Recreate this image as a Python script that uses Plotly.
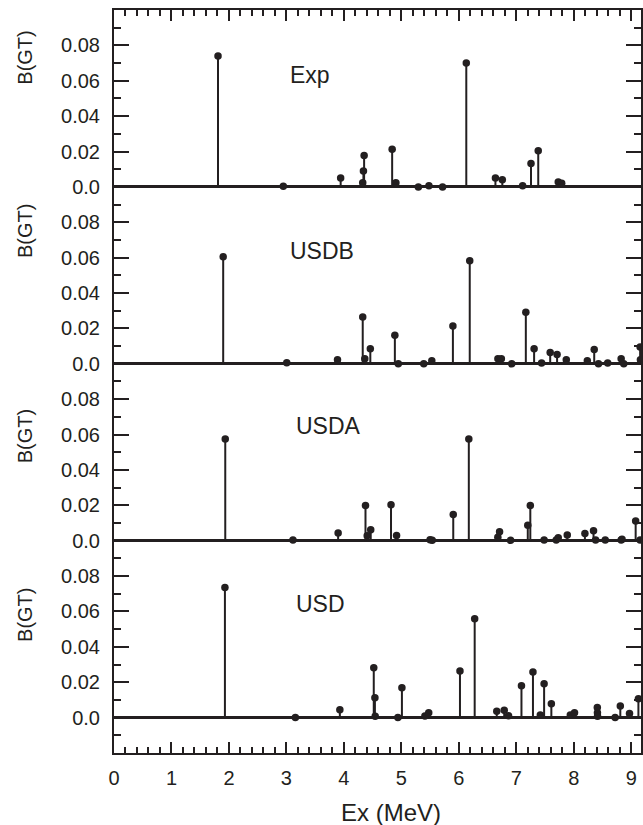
import plotly.graph_objects as go

# ---------------- data ----------------
exp_x = [1.81, 2.946, 3.944, 4.328, 4.34, 4.352, 4.84, 4.905, 5.296, 5.48, 5.717, 6.13,
         6.637, 6.757, 7.11, 7.256, 7.382, 7.73, 7.79]
exp_y = [0.074, 0.0003, 0.0051, 0.0024, 0.009, 0.0177, 0.0213, 0.0023, 0.0, 0.0006, 0.0, 0.070,
         0.0051, 0.0041, 0.0006, 0.0132, 0.0205, 0.0028, 0.002]

usdb_x = [1.90, 3.006, 3.889, 4.328, 4.364, 4.46, 4.887, 4.947, 5.39, 5.53, 5.897, 6.19,
          6.68, 6.74, 6.92, 7.166, 7.31, 7.44, 7.59, 7.71, 7.87, 8.236, 8.356, 8.43, 8.59,
          8.825, 8.87, 9.155, 9.16]
usdb_y = [0.0605, 0.0006, 0.0023, 0.0265, 0.0028, 0.0085, 0.0161, 0.0, 0.0, 0.0017, 0.0214, 0.0582,
          0.0028, 0.0028, 0.0, 0.0291, 0.0085, 0.0004, 0.0064, 0.0053, 0.0023, 0.0017, 0.0081, 0.0,
          0.0004, 0.0028, 0.0, 0.0095, 0.0023]

usda_x = [1.936, 3.114, 3.90, 4.376, 4.406, 4.467, 4.82, 4.917, 5.50, 5.537, 5.903, 6.174,
          6.679, 6.709, 6.90, 7.20, 7.244, 7.484, 7.695, 7.73, 7.887, 8.194, 8.344, 8.38,
          8.548, 8.825, 8.84, 9.077, 9.155]
usda_y = [0.0575, 0.0004, 0.0043, 0.0199, 0.0028, 0.0062, 0.0203, 0.003, 0.0006, 0.0002, 0.0148, 0.0575,
          0.0019, 0.0051, 0.0002, 0.0088, 0.0199, 0.0004, 0.0004, 0.0017, 0.0032, 0.0041, 0.0056, 0.0004,
          0.0004, 0.0004, 0.0008, 0.0111, 0.0004]

usd_x = [1.93, 3.156, 3.93, 4.52, 4.54, 4.545, 4.94, 5.01, 5.41, 5.476, 6.02, 6.276,
         6.66, 6.79, 6.865, 7.09, 7.29, 7.418, 7.484, 7.61, 7.94, 8.013, 8.41, 8.412, 8.414,
         8.72, 8.81, 8.97, 9.125]
usd_y = [0.0736, 0.0, 0.0045, 0.0282, 0.0112, 0.0008, 0.0, 0.0169, 0.0009, 0.0027, 0.0264, 0.0559,
         0.0036, 0.0042, 0.0011, 0.018, 0.0258, 0.0015, 0.0191, 0.0078, 0.0015, 0.0027, 0.0057, 0.0028, 0.0008,
         0.0, 0.0066, 0.0023, 0.0106]

panel_names = ["Exp", "USDB", "USDA", "USD"]
panel_label_x = [3.03, 3.03, 3.14, 3.14]
panel_label_y = [0.0635, 0.064, 0.065, 0.064]
ylabel_y = [0.073, 0.075, 0.059, 0.058]
ytick_vals = [0.0, 0.02, 0.04, 0.06, 0.08]
ytick_text = ["0.0", "0.02", "0.04", "0.06", "0.08"]
xtick_vals = list(range(0, 10))

# ---------------- figure ----------------
INK = "#231f20"
FONT = "Liberation Sans, Arial, Helvetica, sans-serif"
series = [(exp_x, exp_y), (usdb_x, usdb_y), (usda_x, usda_y), (usd_x, usd_y)]

fig = go.Figure()
for i, (xs, ys) in enumerate(series):
    xa = "x" if i == 0 else f"x{i+1}"
    ya = "y" if i == 0 else f"y{i+1}"
    sx, sy = [], []
    for xv, yv in zip(xs, ys):
        sx += [xv, xv, None]
        sy += [0, yv, None]
    fig.add_trace(go.Scatter(x=sx, y=sy, mode="lines", xaxis=xa, yaxis=ya,
                             line=dict(color=INK, width=2), hoverinfo="skip", showlegend=False))
    fig.add_trace(go.Scatter(x=xs, y=ys, mode="markers", xaxis=xa, yaxis=ya,
                             marker=dict(color=INK, size=7.5), showlegend=False, cliponaxis=False))

XR = [0, 9.17]
tot = 0.42
doms = [[0.32 / tot, 1.0], [0.22 / tot, 0.32 / tot], [0.12 / tot, 0.22 / tot], [0.0, 0.12 / tot]]
yranges = [[0, 0.1], [0, 0.1], [0, 0.1], [-0.02, 0.1]]

layout = dict(
    width=643, height=825,
    margin=dict(l=114, r=0, t=10, b=72),
    paper_bgcolor="white", plot_bgcolor="white",
    font=dict(family=FONT, size=20, color=INK),
    showlegend=False,
)

for i in range(4):
    xk = "xaxis" if i == 0 else f"xaxis{i+1}"
    yk = "yaxis" if i == 0 else f"yaxis{i+1}"
    yanchor = "y" if i == 0 else f"y{i+1}"
    xanchor = "x" if i == 0 else f"x{i+1}"
    minor_y = [0.01, 0.03, 0.05, 0.07, 0.09] + ([-0.01] if i == 3 else [])
    layout[yk] = dict(
        domain=doms[i], range=yranges[i], anchor=xanchor,
        tickmode="array", tickvals=ytick_vals, ticktext=ytick_text,
        ticks="inside", ticklen=15, tickwidth=1.5, tickcolor=INK,
        minor=dict(tickmode="array", tickvals=minor_y, ticks="inside", ticklen=7,
                   tickwidth=1.5, tickcolor=INK, showgrid=False),
        showline=True, linecolor=INK, linewidth=2, mirror="ticks",
        showgrid=False, zeroline=True, zerolinecolor=INK, zerolinewidth=3,
        ticklabelstandoff=8, tickfont=dict(size=20, color=INK, family=FONT),
        fixedrange=True,
    )
    xa = dict(range=XR, anchor=yanchor, showgrid=False, zeroline=False, fixedrange=True)
    if i == 0:
        xa.update(side="top", tickmode="array", tickvals=xtick_vals, showticklabels=False,
                  ticks="inside", ticklen=11, tickwidth=1.5, tickcolor=INK,
                  minor=dict(dtick=0.2, tick0=0, ticks="inside", ticklen=6, tickwidth=1.5,
                             tickcolor=INK, showgrid=False),
                  showline=True, linecolor=INK, linewidth=2)
    elif i == 3:
        xa.update(side="bottom", tickmode="array", tickvals=xtick_vals,
                  ticktext=[str(v) for v in xtick_vals],
                  ticks="inside", ticklen=11, tickwidth=1.5, tickcolor=INK,
                  minor=dict(dtick=0.2, tick0=0, ticks="inside", ticklen=6, tickwidth=1.5,
                             tickcolor=INK, showgrid=False),
                  showline=True, linecolor=INK, linewidth=2,
                  ticklabelstandoff=6, tickfont=dict(size=20, color=INK, family=FONT))
    else:
        xa.update(visible=False)
    layout[xk] = xa

annotations = []
for i, name in enumerate(panel_names):
    ya = "y" if i == 0 else f"y{i+1}"
    xa = "x" if i == 0 else f"x{i+1}"
    annotations.append(dict(text=name, x=panel_label_x[i], y=panel_label_y[i], xref=xa, yref=ya,
                            xanchor="left", yanchor="middle", showarrow=False,
                            font=dict(size=23, color=INK, family=FONT)))
    annotations.append(dict(text="B(GT)", x=-0.169, y=ylabel_y[i], xref="paper", yref=ya,
                            xanchor="center", yanchor="middle", textangle=-90, showarrow=False,
                            font=dict(size=20, color=INK, family=FONT)))
annotations.append(dict(text="Ex (MeV)", x=0.525, y=-0.08, xref="paper", yref="paper",
                        xanchor="center", yanchor="middle", showarrow=False,
                        font=dict(size=24, color=INK, family=FONT)))
layout["annotations"] = annotations

fig.update_layout(**layout)
fig.write_html("out.html")
